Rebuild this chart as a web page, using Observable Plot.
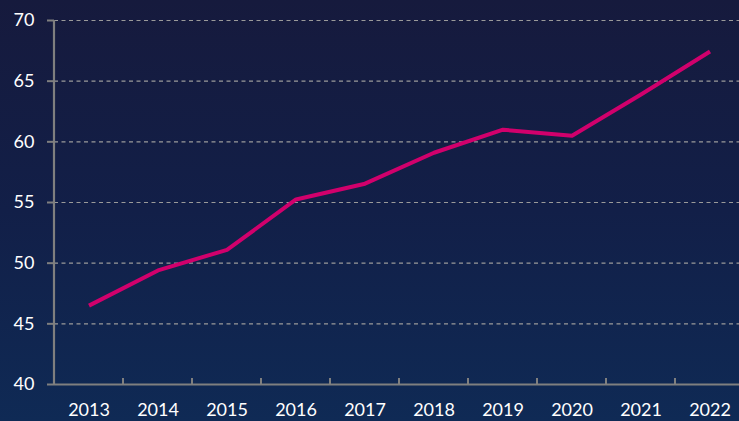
<!DOCTYPE html>
<html>
<head>
<meta charset="utf-8">
<script src="https://cdn.jsdelivr.net/npm/d3@7"></script>
<script src="https://cdn.jsdelivr.net/npm/@observablehq/plot@0.6"></script>
<style>
  html, body { margin: 0; padding: 0; }
  body { width: 739px; height: 421px; overflow: hidden;
    background: linear-gradient(to bottom, #161a3d 0%, #121f48 50%, #0f2a55 100%); }
  #chart svg { display: block; background: transparent; }
</style>
</head>
<body>
<div id="chart"></div>
<script>
const years = ["2013","2014","2015","2016","2017","2018","2019","2020","2021","2022"];
const values = [46.5, 49.4, 51.1, 55.25, 56.55, 59.1, 61.0, 60.5, 63.9, 67.45];
const yTicks = [40, 45, 50, 55, 60, 65, 70];

const data = years.map((y, i) => ({year: y, value: values[i]}));
const axisColor = "#7f7f7f";

const chart = Plot.plot({
  width: 739,
  height: 421,
  marginLeft: 54,
  marginRight: -5,
  marginTop: 20,
  marginBottom: 37,
  style: {background: "transparent", color: "#ffffff", fontFamily: "Lato, 'Open Sans', sans-serif", fontSize: "18px", overflow: "visible"},
  x: {type: "band", domain: years, padding: 0, label: null},
  y: {domain: [40, 70], label: null},
  marks: [
    Plot.ruleY(yTicks.filter(t => t > 40), {stroke: "#9a9a9a", strokeWidth: 1.2, strokeDasharray: "4,3.5"}),
    Plot.axisY({ticks: yTicks, tickSize: 7, stroke: axisColor, strokeWidth: 2, tickPadding: 13, fill: "#ffffff", fontSize: 18, label: null}),
    Plot.ruleY([40], {stroke: axisColor, strokeWidth: 2.2}),
    Plot.axisX({tickSize: 0, tickPadding: 19, fill: "#ffffff", fontSize: 18, label: null}),
    Plot.line(data, {x: "year", y: "value", stroke: "#d1006c", strokeWidth: 4, strokeLinejoin: "round", strokeLinecap: "butt"})
  ]
});
document.getElementById("chart").appendChild(chart);

// Category boundary tick marks along x axis (positions from the library's scales)
const xs = chart.scale("x");
const ys = chart.scale("y");
const svg = d3.select(chart);
const g = svg.append("g");
years.slice(1).forEach(y => {
  const px = xs.apply(y);
  g.append("line").attr("x1", px).attr("x2", px)
    .attr("y1", ys.apply(40)).attr("y2", ys.apply(40) - 6)
    .attr("stroke", axisColor).attr("stroke-width", 2);
});
// left axis line
g.append("line").attr("x1", xs.range[0]).attr("x2", xs.range[0])
  .attr("y1", ys.apply(70)).attr("y2", ys.apply(40))
  .attr("stroke", axisColor).attr("stroke-width", 2.2);
</script>
</body>
</html>
